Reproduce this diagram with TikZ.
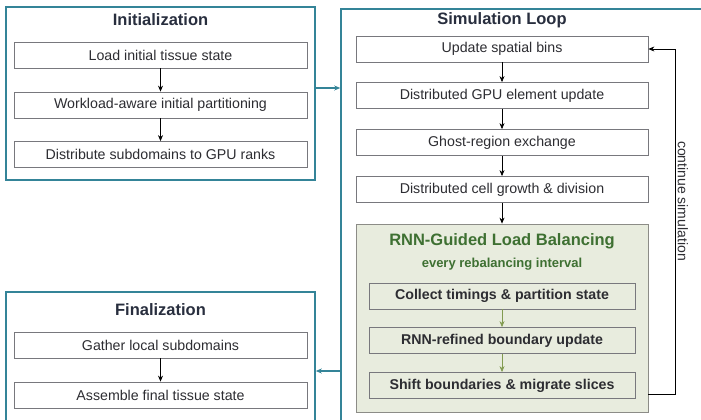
\documentclass[tikz,border=0pt]{standalone}
\usepackage{fontspec}
\setmainfont{Liberation Sans}
\definecolor{phteal}{RGB}{52,132,152}
\definecolor{phtitle}{RGB}{40,46,62}
\definecolor{steptext}{RGB}{45,45,50}
\definecolor{stepline}{RGB}{120,120,125}
\definecolor{rnnfill}{RGB}{232,236,222}
\definecolor{rnnline}{RGB}{140,140,135}
\definecolor{rnngreen}{RGB}{62,112,50}
\definecolor{rnnarrow}{RGB}{130,155,80}
\usetikzlibrary{arrows.meta,positioning,calc}

\tikzset{
  phase/.style={draw=phteal, line width=1.6pt, fill=white, minimum width=309pt, inner sep=0pt},
  phasetitle/.style={font=\fontsize{16.5}{18}\selectfont\bfseries, text=phtitle},
  stepbox/.style={draw=stepline, line width=0.8pt, fill=white, minimum width=293pt, minimum height=26pt,
                  inner sep=0pt, font=\fontsize{14.2}{16}\selectfont, text=steptext},
  rnnbox/.style={stepbox, fill=rnnfill, minimum width=266pt, font=\fontsize{14.2}{16}\selectfont\bfseries},
  flow/.style={-{Stealth[length=6pt,width=5pt]}, line width=0.7pt, black},
  rnnflow/.style={flow, draw=rnnarrow, -{Stealth[length=6pt,width=5pt,fill=rnnarrow]}},
  phaseflow/.style={-{Stealth[length=6pt,width=5pt]}, line width=1.1pt, phteal},
}

\begin{document}
\begin{tikzpicture}[x=1pt, y=-1pt]
  \useasboundingbox (0,0) rectangle (701,420);

  % Initialization
  \node[phase, minimum height=173pt] (init) at (160.5,93.5) {};
  \node[phasetitle] (inittitle) at (160.5,20) {Initialization};
  \node[stepbox] (i1) at (160.5,55) {Load initial tissue state};
  \node[stepbox] (i2) at (160.5,105) {Workload-aware initial partitioning};
  \node[stepbox] (i3) at (160.5,154.5) {Distribute subdomains to GPU ranks};
  \draw[flow] (i1) -- (i2);
  \draw[flow] (i2) -- (i3);

  % Simulation loop
  \node[phase, minimum width=371pt, minimum height=421pt] (sim) at (526.5,219.5) {};
  \node[phasetitle] (simtitle) at (502,20) {Simulation Loop};
  \node[stepbox, minimum width=292pt] (s1) at (502,49) {Update spatial bins};
  \node[stepbox, minimum width=292pt] (s2) at (502,95.5) {Distributed GPU element update};
  \node[stepbox, minimum width=292pt] (s3) at (502,142.5) {Ghost-region exchange};
  \node[stepbox, minimum width=292pt] (s4) at (502,189.5) {Distributed cell growth \& division};

  % RNN block
  \node[draw=rnnline, line width=0.8pt, fill=rnnfill, minimum width=292pt, minimum height=188pt, inner sep=0pt] (rnn) at (502,318) {};
  \node[font=\fontsize{16.5}{18}\selectfont\bfseries, text=rnngreen] (rnntitle) at (502,241) {RNN-Guided Load Balancing};
  \node[font=\fontsize{13}{15}\selectfont\bfseries, text=rnngreen] (rnnsub) at (502,264.5) {every rebalancing interval};
  \node[rnnbox] (r1) at (502,296) {Collect timings \& partition state};
  \node[rnnbox] (r2) at (502,340.5) {RNN-refined boundary update};
  \node[rnnbox] (r3) at (502,385.5) {Shift boundaries \& migrate slices};

  \draw[flow] (s1) -- (s2);
  \draw[flow] (s2) -- (s3);
  \draw[flow] (s3) -- (s4);
  \draw[flow] (s4) -- (rnn);
  \draw[rnnflow] (r1) -- (r2);
  \draw[rnnflow] (r2) -- (r3);

  % loop back
  \coordinate (loopstart) at ($(rnn.south east)+(0,-18)$);
  \coordinate (loopx) at (675,0);
  \draw[flow] (loopstart) -- (loopstart -| loopx) -- (loopx |- s1.east)
    node[pos=0.56, rotate=-90, font=\fontsize{14}{16}\selectfont, text=steptext, yshift=-1pt, anchor=south] (looplabel) {continue simulation}
    -- (s1.east);

  % Finalization
  \node[phase, minimum height=158pt] (final) at (160.5,371) {};
  \node[phasetitle] (finaltitle) at (160.5,310) {Finalization};
  \node[stepbox] (f1) at (160.5,345) {Gather local subdomains};
  \node[stepbox] (f2) at (160.5,395) {Assemble final tissue state};
  \draw[flow] (f1) -- (f2);

  % phase connectors
  \draw[phaseflow] ([yshift=5.5pt]init.east) -- ([yshift=5.5pt]init.east -| sim.west);
  \draw[phaseflow] (sim.west |- final.east) -- (final.east);
\end{tikzpicture}
\end{document}
